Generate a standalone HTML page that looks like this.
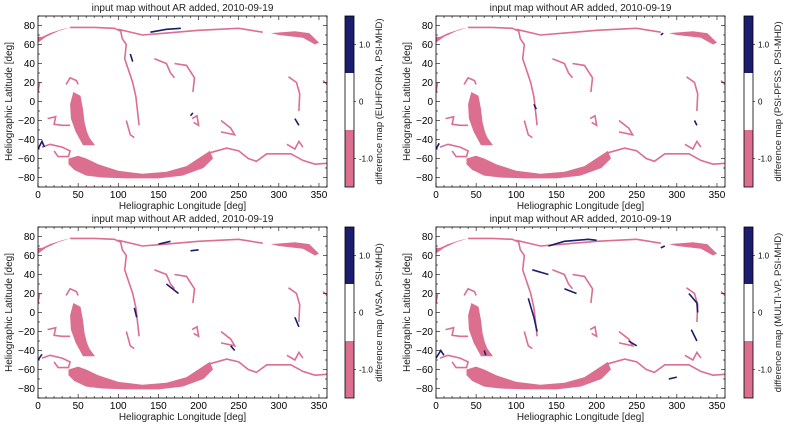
<!DOCTYPE html>
<html><head><meta charset="utf-8"><style>
html,body{margin:0;padding:0;background:#fff;}
svg{display:block;font-family:"Liberation Sans","DejaVu Sans",sans-serif;}
</style></head><body>
<svg id="fig" width="789" height="427" viewBox="0 0 789 427"></svg>
<script>
const panelTitles=["input map without AR added, 2010-09-19","input map without AR added, 2010-09-19","input map without AR added, 2010-09-19","input map without AR added, 2010-09-19"];
const cbarLabels=["difference map (EUHFORIA, PSI-MHD)","difference map (PSI-PFSS, PSI-MHD)","difference map (WSA, PSI-MHD)","difference map (MULTI-VP, PSI-MHD)"];
const xTicks=[0,50,100,150,200,250,300,350];
const yTicks=[-80,-60,-40,-20,0,20,40,60,80];
const cbarTicks=[1.0,0,-1.0];
const cbarTickLabels=["1.0","0","-1.0"];
// pink filled regions [lon,lat]
const pinkBlobs=[
 [[38,-60],[50,-57],[60,-60],[75,-66],[100,-73],[130,-76],[160,-74],[185,-68],[203,-58],[214,-52],[218,-60],[206,-70],[180,-78],[150,-81],[110,-81],[80,-80],[60,-78],[45,-72],[38,-66]],
 [[44,10],[53,6],[56,-8],[58,-22],[61,-32],[64,-38],[71,-46],[56,-46],[47,-32],[41,-18],[40,-3]],
 [[0,62],[10,68],[25,74],[40,78],[30,76],[15,72],[5,68],[0,68]],
 [[290,72],[320,74],[338,72],[350,62],[345,60],[330,67],[300,70]]
];
// pink lines
const pinkLines=[
 [[40,78],[70,78],[95,77],[103,74],[105,66]],
 [[105,66],[110,60],[108,45],[112,35],[118,20],[122,5],[124,-10],[126,-25]],
 [[100,76],[130,70],[160,72],[200,75],[250,77],[280,73]],
 [[214,-54],[235,-49],[250,-52],[262,-60],[272,-63],[285,-55],[315,-55],[330,-62],[345,-66],[360,-65]],
 [[312,26],[322,20],[326,8],[325,-10]],
 [[170,40],[185,38],[195,25],[193,10]],
 [[192,-18],[198,-15],[200,-25],[194,-22]],
 [[228,-20],[240,-28],[245,-35],[228,-32]],
 [[35,18],[40,25],[48,22],[50,18]],
 [[12,-18],[22,-16],[20,-24],[30,-25],[40,-25]],
 [[5,-48],[15,-45],[30,-48],[40,-52],[38,-58],[25,-58],[20,-52]],
 [[145,45],[160,40],[165,30],[170,25]],
 [[110,-20],[115,-35],[120,-38]],
 [[310,-45],[320,-50],[325,-42],[330,-48]],
 [[0,10],[2,20]],
 [[355,22],[360,18]]
];
// navy lines per panel
const navyLines=[
 [[[140,73],[160,76],[178,77]],[[0,-50],[5,-42],[8,-48]],[[115,50],[118,42]],[[320,-18],[325,-25]],[[190,-15],[193,-12]]],
 [[[0,-50],[4,-44]],[[122,-3],[125,-8]],[[322,-20],[325,-25]],[[280,70],[283,72]]],
 [[[150,72],[165,75]],[[190,65],[200,66]],[[0,-50],[5,-44]],[[120,5],[123,-5]],[[160,30],[175,20]],[[320,-5],[325,-15]],[[240,-35],[245,-40]]],
 [[[140,70],[160,75],[190,77],[200,76]],[[0,-48],[6,-40],[10,-45]],[[115,15],[122,-5],[126,-20]],[[120,45],[140,40]],[[160,25],[175,20]],[[315,20],[325,10],[326,0]],[[318,-18],[325,-30]],[[240,-30],[250,-35]],[[290,-70],[300,-68]],[[280,68],[285,70]],[[60,-40],[62,-45]]]
];
const panels=[{x0:38,x1:327,y0:16,y1:187,cb:345},{x0:436,x1:725,y0:16,y1:187,cb:744},{x0:38,x1:327,y0:227,y1:398,cb:345},{x0:436,x1:725,y0:227,y1:398,cb:744}];
const NS="http://www.w3.org/2000/svg";
const svg=document.getElementById('fig');
function mk(tag,attrs,parent){const e=document.createElementNS(NS,tag);for(const k in attrs)e.setAttribute(k,attrs[k]);(parent||svg).appendChild(e);return e;}
const PINK="#dc6e90",NAVY="#1b1d6e";
panels.forEach((p,i)=>{
 const g=mk('g',{});
 
 
 const sx=lon=>p.x0+(lon/360)*(p.x1-p.x0);
 const sy=lat=>p.y1-((lat+90)/180)*(p.y1-p.y0);
 const pts=a=>a.map(q=>sx(q[0]).toFixed(1)+','+sy(q[1]).toFixed(1)).join(' ');
 const cp=mk('clipPath',{id:'c'+i},g);mk('rect',{x:p.x0,y:p.y0,width:p.x1-p.x0,height:p.y1-p.y0},cp);
 const m=mk('g',{'clip-path':'url(#c'+i+')'},g);
 
 
 pinkBlobs.forEach(b=>{const e=mk('polygon',{points:pts(b),fill:PINK},m);
  
  });
 pinkLines.forEach(l=>{const e=mk('polyline',{points:pts(l),fill:'none',stroke:PINK,'stroke-width':1.6},m);
  
  });
 navyLines[i].forEach(l=>{const e=mk('polyline',{points:pts(l),fill:'none',stroke:NAVY,'stroke-width':1.6},m);
  
  });
 mk('rect',{x:p.x0,y:p.y0,width:p.x1-p.x0,height:p.y1-p.y0,fill:'none',stroke:'#000','stroke-width':0.8},g);
 for(let v=0;v<=360;v+=10){const x=sx(v),L=v%50==0?4:2;
  mk('line',{x1:x,x2:x,y1:p.y1,y2:p.y1-L,stroke:'#000','stroke-width':0.6},g);
  mk('line',{x1:x,x2:x,y1:p.y0,y2:p.y0+L,stroke:'#000','stroke-width':0.6},g);}
 for(let v=-90;v<=90;v+=10){const y=sy(v),L=v%20==0&&Math.abs(v)<90?4:2;
  mk('line',{x1:p.x0,x2:p.x0+L,y1:y,y2:y,stroke:'#000','stroke-width':0.6},g);
  mk('line',{x1:p.x1,x2:p.x1-L,y1:y,y2:y,stroke:'#000','stroke-width':0.6},g);}
 xTicks.forEach(v=>{const t=mk('text',{x:sx(v),y:p.y1+11,'font-size':10,'text-anchor':'middle'},g);t.textContent=v;
  });
 yTicks.forEach(v=>{const t=mk('text',{x:p.x0-3,y:sy(v)+3.5,'font-size':10,'text-anchor':'end'},g);t.textContent=v<0?'\u2212'+(-v):v;
  });
 const xt=mk('text',{x:(p.x0+p.x1)/2,y:p.y1+22,'font-size':10,'text-anchor':'middle',fill:'#222'},g);xt.textContent='Heliographic Longitude [deg]';
 
 const yt=mk('text',{x:0,y:0,'font-size':10,'text-anchor':'middle',fill:'#222',transform:`translate(${p.x0-26},${(p.y0+p.y1)/2}) rotate(-90)`},g);yt.textContent='Heliographic Latitude [deg]';
 
 const tt=mk('text',{x:(p.x0+p.x1)/2,y:p.y0-5,'font-size':10,'text-anchor':'middle',fill:'#222'},g);tt.textContent=panelTitles[i];
 
 // colorbar
 const cb=mk('g',{},g);
 
 
 const h=p.y1-p.y0,cw=9,cy=v=>p.y0+h*(1.5-v)/3;
 mk('rect',{x:p.cb,y:cy(1.5),width:cw,height:h/3,fill:NAVY},cb);
 mk('rect',{x:p.cb,y:cy(0.5),width:cw,height:h/3,fill:'#fff'},cb);
 mk('rect',{x:p.cb,y:cy(-0.5),width:cw,height:h/3,fill:PINK},cb);
 mk('rect',{x:p.cb,y:p.y0,width:cw,height:h,fill:'none',stroke:'#000','stroke-width':0.8},cb);
 cbarTicks.forEach((v,k)=>{const y=cy(v);
  mk('line',{x1:p.cb+cw,x2:p.cb+cw+2,y1:y,y2:y,stroke:'#000','stroke-width':0.6},cb);
  const t=mk('text',{x:p.cb+cw+5,y:y+3,'font-size':8},cb);t.textContent=cbarTickLabels[k];
  });
 const cl=mk('text',{x:0,y:0,'font-size':9.5,'text-anchor':'middle',fill:'#222',transform:`translate(${p.cb+cw+28},${(p.y0+p.y1)/2}) rotate(-90)`},cb);cl.textContent=cbarLabels[i];
 
});
</script>
</body></html>
